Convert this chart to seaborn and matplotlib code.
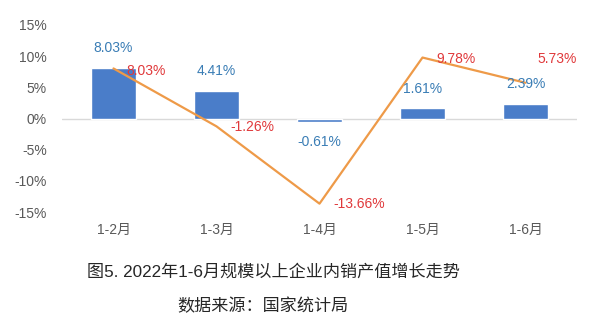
import matplotlib
matplotlib.use("Agg")
import matplotlib.pyplot as plt
import seaborn as sns
import pandas as pd

categories = ["1-2月", "1-3月", "1-4月", "1-5月", "1-6月"]
bar_values = [8.03, 4.41, -0.61, 1.61, 2.39]
line_values = [8.03, -1.26, -13.66, 9.78, 5.73]
yticks = [-15, -10, -5, 0, 5, 10, 15]

sns.set_theme(style="white")
plt.rcParams['font.family'] = ['Liberation Sans', 'Noto Sans CJK SC']

df = pd.DataFrame({"cat": categories, "bar": bar_values, "line": line_values})

fig = plt.figure(figsize=(6.0, 3.26), dpi=100)
ax = fig.add_axes([62/600, 1-212/326, 515/600, 187/326])

sns.barplot(data=df, x="cat", y="bar", color="#4A7DC9", saturation=1, width=0.44, ax=ax, zorder=2)
sns.lineplot(data=df, x="cat", y="line", color="#EE9A48", linewidth=1.6, ax=ax, zorder=3, sort=False)

ax.axhline(0, color="#D9D9D9", linewidth=1.0, zorder=1)
ax.set_xlim(-0.5, 4.5)
ax.set_ylim(-15, 15)
ax.set_yticks(yticks)
ax.set_yticklabels([f"{v}%" for v in yticks])
ax.set_xlabel("")
ax.set_ylabel("")
for s in ax.spines.values():
    s.set_visible(False)
ax.tick_params(axis="both", length=0, labelsize=10, colors="#595959")
ax.tick_params(axis="y", pad=11)
ax.tick_params(axis="x", pad=8)

# blue labels above bars
for i, v in enumerate(bar_values):
    ax.text(i, v + (3.2 if v > 0 else -3.2), f"{v:.2f}%",
            ha="center", va="center", color="#3A7DB5", fontsize=10)

# red labels for line
red_pos = [(0.32, 7.7), (0.35, -1.3), (0.39, -13.7), (0.33, 9.6), (0.31, 9.6)]
for i, v in enumerate(line_values):
    dx, yy = red_pos[i]
    ax.text(i + dx, yy, f"{v:.2f}%", ha="center", va="center", color="#E0393B", fontsize=10)

fig.text(273/600, 1-272/326, "图5. 2022年1-6月规模以上企业内销产值增长走势",
         ha="center", va="center", fontsize=12.3, color="#262626")
fig.text(263/600, 1-306/326, "数据来源：国家统计局",
         ha="center", va="center", fontsize=12.3, color="#262626")

fig.savefig("out.png", dpi=100, facecolor="white")
